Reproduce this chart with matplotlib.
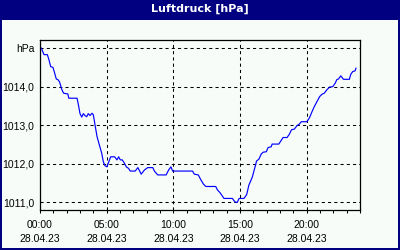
import matplotlib
matplotlib.use('Agg')
import matplotlib.pyplot as plt
from matplotlib.patches import Rectangle
from matplotlib.ticker import FixedLocator, FuncFormatter, MultipleLocator

# hours since 00:00 on 28.04.23
hours = [0.0, 0.1, 0.3, 0.55, 0.67, 0.8, 0.97, 1.1, 1.22, 1.35, 1.47, 1.64, 1.77, 2.09, 2.16,
         2.78, 2.88, 3.0, 3.13, 3.25, 3.37, 3.5, 3.62, 3.75, 3.9, 4.0, 4.13, 4.28, 4.45, 4.63,
         4.75, 4.87, 5.02, 5.3, 5.6, 5.77, 5.9, 6.02, 6.17, 6.34, 6.47, 6.64, 6.77, 7.14, 7.34,
         7.59, 7.84, 8.08, 8.46, 8.58, 8.83, 9.46, 9.65, 9.82, 9.95, 11.44, 11.57, 11.87, 12.07,
         12.26, 12.44, 13.18, 13.31, 13.5, 13.68, 13.8, 14.43, 14.55, 14.68, 14.8, 14.93, 15.3,
         15.5, 15.67, 15.92, 16.17, 16.24, 16.42, 16.59, 16.74, 16.97, 17.11, 17.34, 17.41,
         17.91, 18.08, 18.23, 18.53, 18.71, 18.86, 19.08, 19.28, 19.45, 19.6, 20.02, 20.22,
         20.4, 20.57, 20.77, 20.97, 21.14, 21.32, 21.52, 21.72, 21.96, 22.14, 22.26, 22.39,
         22.56, 22.76, 23.2, 23.31, 23.45, 23.63, 23.7]
pressure = [1015.02, 1015.0, 1014.83, 1014.83, 1014.7, 1014.52, 1014.5, 1014.35, 1014.2, 1014.18,
            1014.12, 1013.92, 1013.83, 1013.81, 1013.7, 1013.7, 1013.53, 1013.3, 1013.21, 1013.3,
            1013.25, 1013.22, 1013.3, 1013.25, 1013.31, 1013.27, 1013.0, 1012.7, 1012.49, 1012.27,
            1012.05, 1011.95, 1011.92, 1012.18, 1012.18, 1012.1, 1012.18, 1012.1, 1012.1, 1012.01,
            1011.92, 1011.88, 1011.81, 1011.81, 1011.9, 1011.73, 1011.84, 1011.9, 1011.9, 1011.81,
            1011.71, 1011.71, 1011.84, 1011.92, 1011.81, 1011.81, 1011.73, 1011.71, 1011.58,
            1011.47, 1011.41, 1011.41, 1011.32, 1011.25, 1011.16, 1011.1, 1011.1, 1011.04, 1011.0,
            1011.0, 1011.1, 1011.1, 1011.2, 1011.45, 1011.65, 1011.97, 1012.07, 1012.12, 1012.25,
            1012.3, 1012.31, 1012.42, 1012.44, 1012.51, 1012.51, 1012.6, 1012.68, 1012.68, 1012.77,
            1012.88, 1012.9, 1012.99, 1013.03, 1013.09, 1013.09, 1013.2, 1013.35, 1013.48, 1013.61,
            1013.74, 1013.8, 1013.83, 1013.92, 1013.99, 1014.0, 1014.09, 1014.18, 1014.2, 1014.28,
            1014.19, 1014.19, 1014.32, 1014.39, 1014.41, 1014.48]

x_ticks = [0, 5, 10, 15, 20]
x_labels = ['00:00\n28.04.23', '05:00\n28.04.23', '10:00\n28.04.23',
            '15:00\n28.04.23', '20:00\n28.04.23']
y_ticks = [1011, 1012, 1013, 1014, 1015]

navy = '#000080'
bg = '#F8FCF8'
plt.rcParams['font.family'] = ['Liberation Sans', 'DejaVu Sans']

fig = plt.figure(figsize=(4, 2.5), dpi=100, facecolor=bg)

# title band and frame
fig.patches.append(Rectangle((0, 230/250), 1, 20/250, transform=fig.transFigure,
                             facecolor=navy, edgecolor='none'))
fig.patches.append(Rectangle((0, 0), 2/400, 1, transform=fig.transFigure,
                             facecolor=navy, edgecolor='none'))
fig.patches.append(Rectangle((398/400, 0), 2/400, 1, transform=fig.transFigure,
                             facecolor=navy, edgecolor='none'))
fig.patches.append(Rectangle((0, 0), 1, 2/250, transform=fig.transFigure,
                             facecolor=navy, edgecolor='none'))
fig.text(0.5, 1 - 9/250, 'Luftdruck [hPa]', color='white', fontsize=8,
         fontweight='bold', ha='center', va='center', family='DejaVu Sans')

ax = fig.add_axes([40/400, 40/250, 320/400, 170/250])
ax.set_facecolor(bg)
ax.plot(hours, pressure, color='#0000FF', lw=0.85)

ax.set_xlim(0, 24)
ax.set_ylim(1010.8, 1015.21)

ax.xaxis.set_major_locator(FixedLocator(x_ticks))
ax.set_xticklabels(x_labels)
ax.xaxis.set_minor_locator(MultipleLocator(1))
ax.yaxis.set_major_locator(FixedLocator(y_ticks))
ax.yaxis.set_major_formatter(FuncFormatter(
    lambda v, p: 'hPa' if v >= 1015 else ('%.1f' % v).replace('.', ',')))

ax.tick_params(axis='x', which='both', direction='out', length=2, width=0.75,
               labelsize=7.5, pad=5, colors='black')
ax.tick_params(axis='y', length=0, labelsize=7.5, pad=4)
for lbl in ax.get_xticklabels():
    lbl.set_linespacing(1.5)

ax.grid(True, which='major', color='black', lw=0.75, linestyle=(0, (3, 3)))
for s in ax.spines.values():
    s.set_linewidth(0.9)
    s.set_color('black')

fig.savefig('out.png', dpi=100, facecolor=bg)
